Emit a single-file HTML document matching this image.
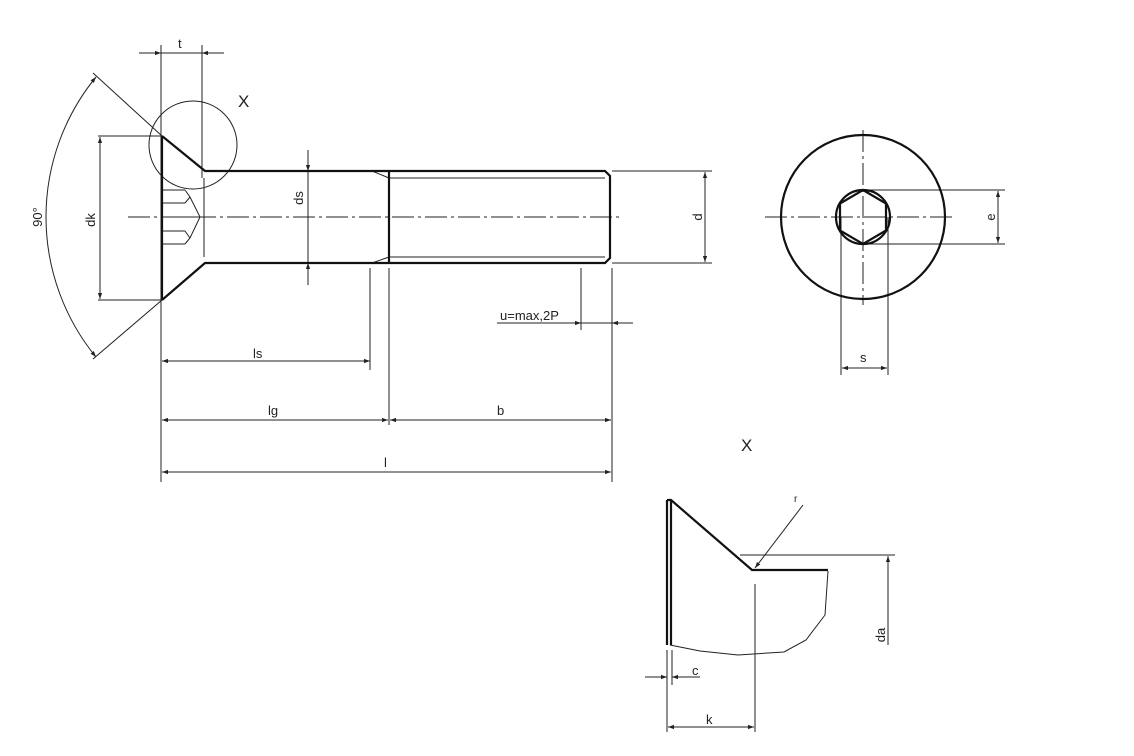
<!DOCTYPE html>
<html><head><style>html,body{margin:0;padding:0;background:#fff;}svg{display:block}</style></head>
<body>
<svg width="1134" height="756" viewBox="0 0 1134 756" xmlns="http://www.w3.org/2000/svg" font-family="Liberation Sans, sans-serif" fill="none" stroke="#222">
<defs>
<marker id="a" viewBox="0 0 10 10" refX="10" refY="5" markerWidth="10" markerHeight="6" orient="auto-start-reverse" markerUnits="userSpaceOnUse"><path d="M0,1.5 L10,5 L0,8.5z" fill="#222" stroke="none"/></marker>
</defs>
<g stroke-width="1">
<line x1="161" y1="45" x2="161" y2="482"/>
<line x1="202" y1="45" x2="202" y2="178"/>
<line x1="204" y1="178" x2="204" y2="257"/>
<line x1="139" y1="53" x2="224" y2="53"/>
<line x1="139" y1="53" x2="161" y2="53" marker-end="url(#a)"/>
<line x1="224" y1="53" x2="202" y2="53" marker-end="url(#a)"/>
<circle cx="193" cy="145" r="44"/>
<line x1="162" y1="136" x2="93" y2="73"/>
<line x1="162" y1="300" x2="93" y2="359"/>
<path d="M96,77 A221,221 0 0 0 96,357" marker-start="url(#a)" marker-end="url(#a)"/>
<line x1="98" y1="136" x2="162" y2="136"/>
<line x1="98" y1="300" x2="162" y2="300"/>
<line x1="100" y1="137" x2="100" y2="299" marker-start="url(#a)" marker-end="url(#a)"/>
<line x1="308" y1="150" x2="308" y2="171" marker-end="url(#a)"/>
<line x1="308" y1="285" x2="308" y2="263" marker-end="url(#a)"/>
<line x1="308" y1="171" x2="308" y2="263"/>
<line x1="128" y1="217" x2="622" y2="217" stroke-dasharray="22,4,3,4"/>
<path d="M162,190H185M162,203H185M162,217H200M162,231H185M162,244H185M185,190L190,197L200,217L190,238L185,244M185,203L190,197M185,231L190,238"/>
<line x1="389" y1="178" x2="605" y2="178"/>
<line x1="389" y1="257" x2="605" y2="257"/>
<path d="M372,171L389,178M372,263L389,257"/>
<line x1="612" y1="171" x2="712" y2="171"/>
<line x1="612" y1="263" x2="712" y2="263"/>
<line x1="705" y1="172" x2="705" y2="262" marker-start="url(#a)" marker-end="url(#a)"/>
<line x1="497" y1="323" x2="633" y2="323"/>
<line x1="560" y1="323" x2="581" y2="323" marker-end="url(#a)"/>
<line x1="633" y1="323" x2="612" y2="323" marker-end="url(#a)"/>
<line x1="581" y1="268" x2="581" y2="330"/>
<line x1="612" y1="268" x2="612" y2="482"/>
<line x1="370" y1="268" x2="370" y2="370"/>
<line x1="389" y1="268" x2="389" y2="425"/>
<line x1="162" y1="361" x2="370" y2="361" marker-start="url(#a)" marker-end="url(#a)"/>
<line x1="162" y1="420" x2="388" y2="420" marker-start="url(#a)" marker-end="url(#a)"/>
<line x1="390" y1="420" x2="611" y2="420" marker-start="url(#a)" marker-end="url(#a)"/>
<line x1="162" y1="472" x2="611" y2="472" marker-start="url(#a)" marker-end="url(#a)"/>
<line x1="765" y1="217" x2="955" y2="217" stroke-dasharray="22,4,3,4"/>
<line x1="863" y1="130" x2="863" y2="305" stroke-dasharray="22,4,3,4"/>
<line x1="866" y1="190" x2="1005" y2="190"/>
<line x1="866" y1="244" x2="1005" y2="244"/>
<line x1="998" y1="191" x2="998" y2="243" marker-start="url(#a)" marker-end="url(#a)"/>
<line x1="841" y1="217" x2="841" y2="375"/>
<line x1="888" y1="217" x2="888" y2="375"/>
<line x1="842" y1="368" x2="887" y2="368" marker-start="url(#a)" marker-end="url(#a)"/>
<line x1="803" y1="505" x2="755" y2="568" marker-end="url(#a)"/>
<line x1="740" y1="555" x2="895" y2="555"/>
<line x1="888" y1="556" x2="888" y2="645" marker-start="url(#a)"/>
<line x1="755" y1="584" x2="755" y2="732"/>
<line x1="667" y1="650" x2="667" y2="732"/>
<line x1="672" y1="650" x2="672" y2="685"/>
<line x1="668" y1="727" x2="754" y2="727" marker-start="url(#a)" marker-end="url(#a)"/>
<line x1="645" y1="677" x2="667" y2="677" marker-end="url(#a)"/>
<line x1="700" y1="677" x2="672" y2="677" marker-end="url(#a)"/>
<path d="M670,645L700,651L738,655L784,652L806,640L825,615L828,571"/>
</g>
<g stroke-width="2.2" stroke="#111">
<line x1="162" y1="136" x2="162" y2="300"/>
<path d="M162,136L205,171H605L610,176V258L605,263H205L162,300"/>
<line x1="389" y1="171" x2="389" y2="263"/>
<circle cx="863" cy="217" r="82"/>
<circle cx="863" cy="217" r="27"/>
<path d="M863,190L886,203.5V230.5L863,244L840,230.5V203.5Z"/>
<path d="M667,500V645M671,500V645M667,500H671L752,570H828"/>
</g>
<g fill="#222" stroke="none" font-size="13">
<text x="178" y="48">t</text>
<text x="238" y="107" font-size="17">X</text>
<text x="741" y="451" font-size="17">X</text>
<text x="253" y="358">ls</text>
<text x="268" y="415">lg</text>
<text x="497" y="415">b</text>
<text x="384" y="467">l</text>
<text x="500" y="320">u=max,2P</text>
<text x="860" y="362">s</text>
<text x="692" y="675">c</text>
<text x="706" y="724">k</text>
<text x="794" y="502" font-size="10">r</text>
<text transform="translate(42,217) rotate(-90)" text-anchor="middle">90°</text>
<text transform="translate(95,220) rotate(-90)" text-anchor="middle">dk</text>
<text transform="translate(303,198) rotate(-90)" text-anchor="middle">ds</text>
<text transform="translate(702,217) rotate(-90)" text-anchor="middle">d</text>
<text transform="translate(995,217) rotate(-90)" text-anchor="middle">e</text>
<text transform="translate(885,635) rotate(-90)" text-anchor="middle">da</text>
</g>
</svg>
</body></html>
